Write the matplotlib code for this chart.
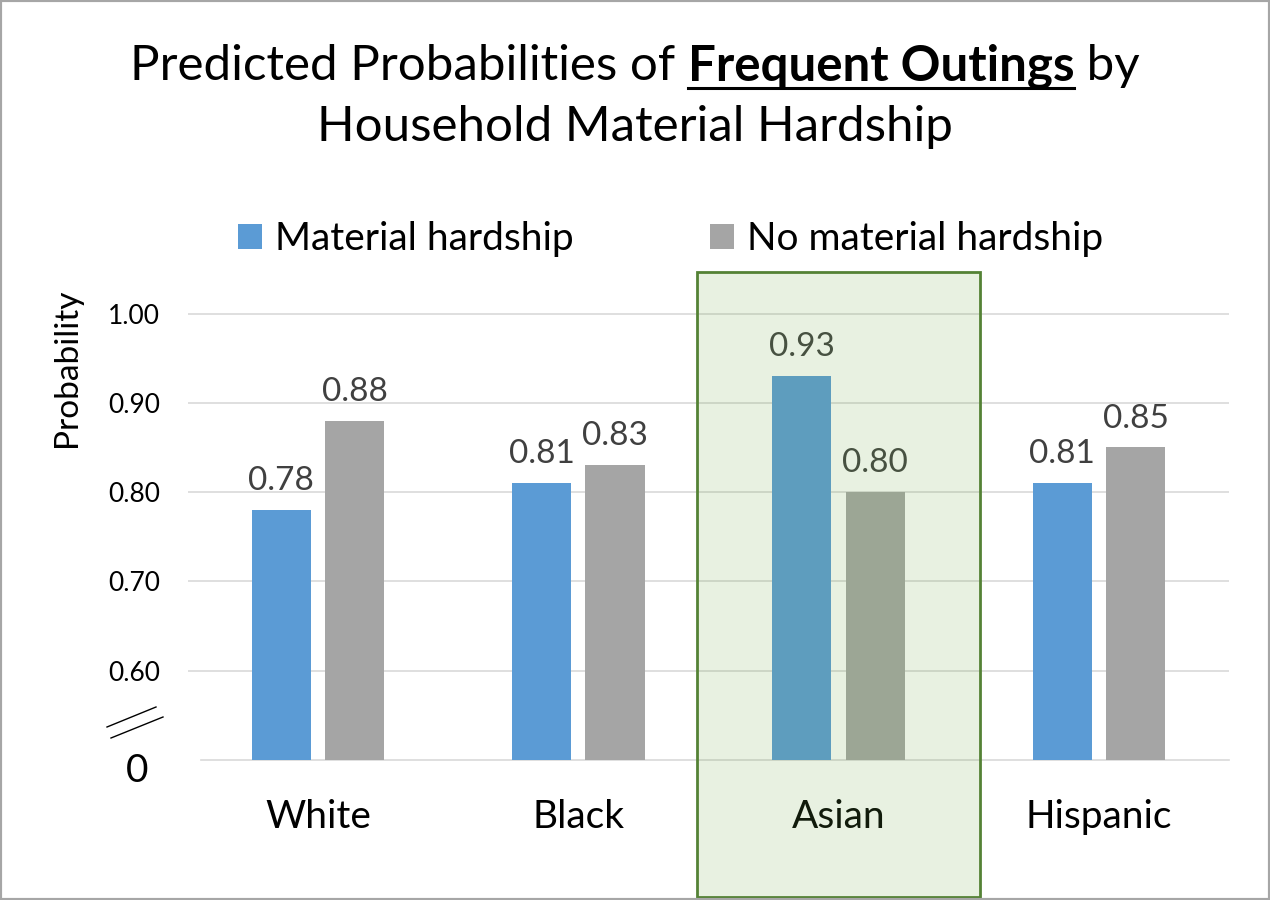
import matplotlib.pyplot as plt
import matplotlib.transforms as mtransforms
from matplotlib.patches import Rectangle
from matplotlib.lines import Line2D
import numpy as np

plt.rcParams['font.family'] = ['Lato', 'DejaVu Sans']

groups = ['White', 'Black', 'Asian', 'Hispanic']
series = ['Material hardship', 'No material hardship']
hardship = [0.78, 0.81, 0.93, 0.81]
no_hardship = [0.88, 0.83, 0.80, 0.85]
yticks = [0.60, 0.70, 0.80, 0.90, 1.00]
highlight = 'Asian'

blue = '#5b9bd5'
grey = '#a5a5a5'

fig = plt.figure(figsize=(12.7, 9), dpi=100)
ax = fig.add_axes([0.148, 0.1556, 0.8197, 0.5456])
ax.set_facecolor('none')

x = np.arange(len(groups))
w = 0.227
off = 0.141
b1 = ax.bar(x - off, np.array(hardship) - 0.5, w, bottom=0.5, color=blue,
            label=series[0], zorder=3)
b2 = ax.bar(x + off, np.array(no_hardship) - 0.5, w, bottom=0.5, color=grey,
            label=series[1], zorder=3)

for xs, vals in [(x - off, hardship), (x + off, no_hardship)]:
    for xi, v in zip(xs, vals):
        ax.annotate(f'{v:.2f}', (xi, v), xytext=(0, 10), textcoords='offset points',
                    ha='center', va='bottom', fontsize=24, color='#404040')

ax.set_xlim(-0.5, len(groups) - 0.5)
ax.set_ylim(0.5, 1.05)
ax.set_yticks(yticks)
ax.set_yticklabels([f'{t:.2f}' for t in yticks], fontsize=19)
ax.set_xticks(x)
ax.set_xticklabels(groups, fontsize=28)
ax.tick_params(axis='both', length=0)
ax.tick_params(axis='y', pad=20)
ax.tick_params(axis='x', pad=28)
ax.grid(axis='y', color='#d9d9d9', linewidth=1.2, zorder=0)
for s in ['top', 'right', 'left']:
    ax.spines[s].set_visible(False)
ax.spines['bottom'].set_color('#d9d9d9')
ax.spines['bottom'].set_linewidth(1.2)
ax.spines['bottom'].set_bounds(-0.45, len(groups) - 0.5)

# broken axis: "0" at the baseline plus two slash marks
fig.text(137 / 1270, 1 - 771 / 900, '0', fontsize=28, ha='center', va='center')
for (x0, y0, x1, y1) in [(107, 727, 156, 707), (111, 738, 163, 717)]:
    fig.add_artist(Line2D([x0 / 1270, x1 / 1270], [1 - y0 / 900, 1 - y1 / 900],
                          color='black', linewidth=1.0))

fig.text(67 / 1270, 1 - 368 / 900, 'Probability', rotation=90, fontsize=24,
         ha='center', va='center')

# title, first line built from pieces so the middle part can be bold and underlined
fig.canvas.draw()
r = fig.canvas.get_renderer()
tsize = 35.5
parts = [('Predicted Probabilities of ', 'normal'), ('Frequent Outings', 'bold'), (' by', 'normal')]
texts = []
for s, wgt in parts:
    t = fig.text(0, 1 - 66 / 900, s, fontsize=tsize, fontweight=wgt, ha='left', va='center')
    texts.append(t)
widths = [t.get_window_extent(r).width for t in texts]
total = sum(widths)
cur = 635 - total / 2
for t, wd in zip(texts, widths):
    t.set_x(cur / 1270)
    if t.get_fontweight() == 'bold':
        fig.add_artist(Line2D([cur / 1270, (cur + wd) / 1270], [1 - 88 / 900] * 2,
                              color='black', linewidth=2.2))
    cur += wd
fig.text(635 / 1270, 1 - 127 / 900, 'Household Material Hardship', fontsize=tsize,
         ha='center', va='center')

fig.legend(handles=[b1, b2], loc='center', bbox_to_anchor=(0.528, 1 - 239 / 900),
           ncol=2, frameon=False, fontsize=28, handlelength=0.62, handleheight=0.62,
           handletextpad=0.33, columnspacing=3.5)

# green highlight box over the Asian group
gi = groups.index(highlight)
trans = mtransforms.blended_transform_factory(ax.transData, fig.transFigure)
fig.add_artist(Rectangle((gi - 0.5423, 1 - 897 / 900), 1.0846, (897 - 272) / 900,
                         transform=trans, facecolor=(0.44, 0.68, 0.28, 0.16),
                         edgecolor='#548235', linewidth=2, zorder=5))

fig.add_artist(Rectangle((0, 0), 1, 1, transform=fig.transFigure, fill=False,
                         edgecolor='#a6a6a6', linewidth=3, zorder=6))

fig.savefig('out.png', dpi=100)
